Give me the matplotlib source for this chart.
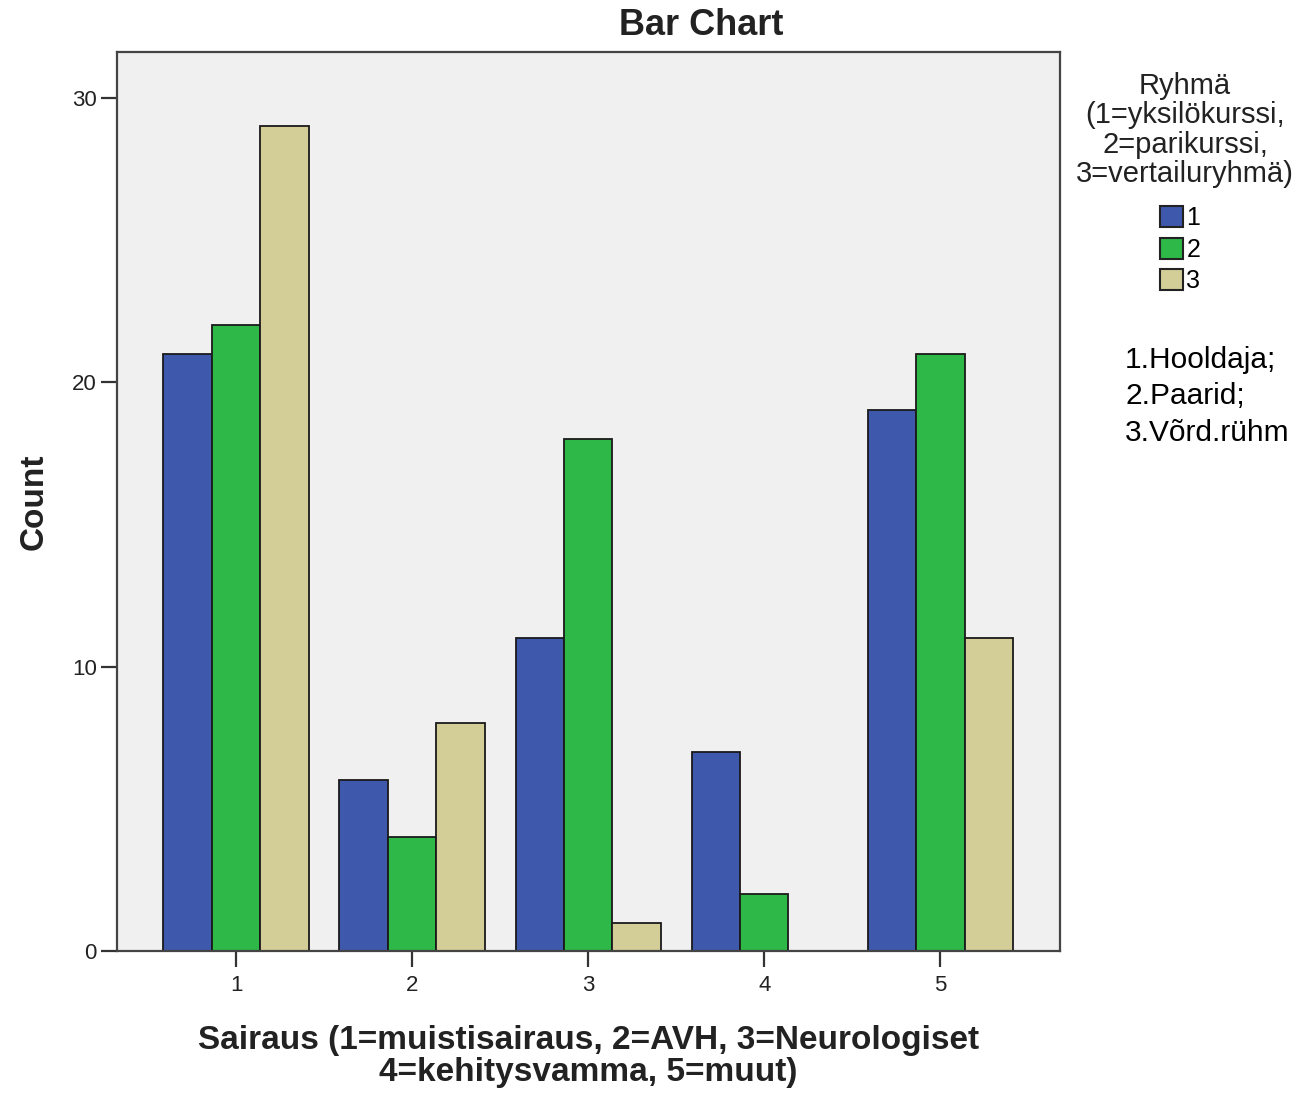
import numpy as np
import matplotlib
matplotlib.use("Agg")
from matplotlib import pyplot as plt
from matplotlib.patches import Patch

# Datos
categorias = ["1", "2", "3", "4", "5"]
grupos = ["1", "2", "3"]
ryhma1 = [21, 6, 11, 7, 19]
ryhma2 = [22, 4, 18, 2, 21]
ryhma3 = [29, 8, 1, 0, 11]
colores = ["#3E58AC", "#2EB848", "#D3CE97"]

plt.rcParams["font.family"] = ["Liberation Sans", "DejaVu Sans"]

fig = plt.figure(figsize=(13.16, 10.95), dpi=100)
ax = fig.add_axes([0.0889, 0.1315, 0.7166, 0.821])
ax.set_facecolor("#F0F0F0")

x = np.arange(1, len(categorias) + 1)
ancho = 0.275
for i, (valores, color) in enumerate(zip([ryhma1, ryhma2, ryhma3], colores)):
    ax.bar(x + (i - 1) * ancho, valores, ancho, color=color,
           edgecolor="#1a1a1a", linewidth=1.3)

ax.set_xlim(0.324, 5.68)
ax.set_ylim(0, 31.6)
ax.set_yticks([0, 10, 20, 30])
ax.set_xticks(x)
ax.set_xticklabels(categorias)
ax.tick_params(axis="both", labelsize=16, length=11.5, width=1.6, color="#333333",
               labelcolor="#222222")
ax.tick_params(axis="x", pad=6)
ax.tick_params(axis="y", pad=3)
for s in ax.spines.values():
    s.set_linewidth(1.6)
    s.set_color("#444444")

# Titulo centrado sobre la figura
fig.text(0.533, 0.977, "Bar Chart", ha="center", va="center", fontsize=26,
         fontweight="bold", color="#222222")
ax.set_ylabel("Count", fontsize=24, fontweight="bold", labelpad=16, color="#222222")
ax.set_xlabel("Sairaus (1=muistisairaus, 2=AVH, 3=Neurologiset\n4=kehitysvamma, 5=muut)",
              fontsize=24, fontweight="bold", labelpad=21, linespacing=1.02,
              color="#222222")

# Leyenda
fig.text(0.9005, 0.9345, "Ryhmä\n(1=yksilökurssi,\n2=parikurssi,\n3=vertailuryhmä)",
         ha="center", va="top", fontsize=21, linespacing=1.07, color="#222222")
manijas = [Patch(facecolor=c, edgecolor="#222222", linewidth=1.5, label=g)
           for c, g in zip(colores, grupos)]
fig.legend(handles=manijas, loc="upper left", bbox_to_anchor=(0.8815, 0.8115),
           frameon=False, fontsize=18, handlelength=0.9, handleheight=0.9,
           handletextpad=0.15, labelspacing=0.3, borderaxespad=0, borderpad=0)

fig.text(0.855, 0.684, "1.Hooldaja;\n2.Paarid;\n3.Võrd.rühm", ha="left", va="top",
         fontsize=21.5, linespacing=1.38)

fig.savefig("out.png", dpi=100)
